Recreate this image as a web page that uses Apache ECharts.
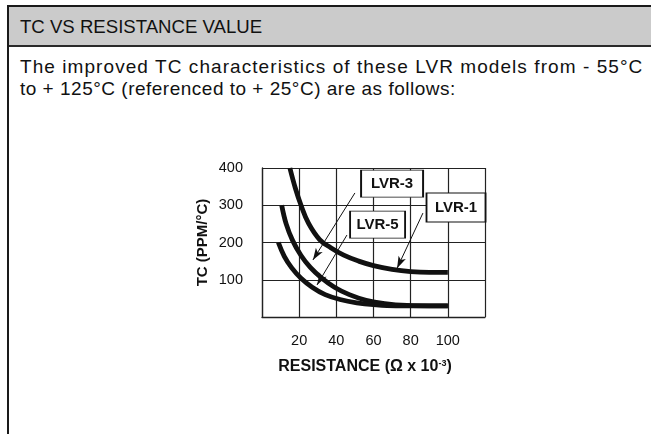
<!DOCTYPE html>
<html>
<head>
<meta charset="utf-8">
<script src="https://cdn.jsdelivr.net/npm/echarts@6/dist/echarts.min.js"></script>
<style>
    html, body { margin: 0; padding: 0; background: #fff; overflow: hidden; }
    body { width: 651px; height: 434px; position: relative; font-family: "Liberation Sans", Arial, sans-serif; color: #111; }
    .frame { position: absolute; left: 7px; top: 5px; width: 660px; height: 450px; border-top: 2px solid #1a1a1a; border-left: 2px solid #1a1a1a; }
    .head { height: 38px; background: #cbcbcb; border-bottom: 2px solid #2a2a2a; }
    .head span { position: absolute; left: 11px; top: 10px; font-size: 18.6px; line-height: 20px; }
    .intro { position: absolute; left: 20px; top: 56px; font-size: 19px; line-height: 22px; white-space: nowrap; }
    .intro .l1 { letter-spacing: 1.07px; }
    .intro .l2 { letter-spacing: 0.5px; }
    #chart { position: absolute; left: 0; top: 0; width: 651px; height: 434px; }
</style>
</head>
<body>
<div class="frame"><div class="head"><span>TC VS RESISTANCE VALUE</span></div></div>
<div class="intro">
    <div class="l1">The improved TC characteristics of these LVR models from - 55°C</div>
    <div class="l2">to + 125°C (referenced to + 25°C) are as follows:</div>
</div>
<div id="chart"></div>
<script>
    // curves: [resistance, tc]
    const lvr1 = [[15,400],[18,345],[21,300],[25,252],[31,208],[37,186],[44,166],[52,150],[60,138],[70,128],[80,122],[90,120],[100,120]];
    const lvr3 = [[10.6,300],[13,250],[16.5,205],[21,165],[26,133],[32,105],[39,80],[47,60],[56,45],[66,36],[78,31],[90,30],[100,30]];
    const lvr5 = [[8.8,200],[12,163],[16,132],[21,104],[27,80],[34,60],[42,47],[51,38],[60,33],[72,30],[85,30],[100,30]];

    const xTicks = [20, 40, 60, 80, 100];
    const yTicks = [100, 200, 300, 400];

    // callout boxes and arrows, in data units
    const boxNames = ['LVR-3', 'LVR-5', 'LVR-1'];
    const boxAt = [[70,358],[62.2,248],[104.4,294]];
    const boxSize = [[62,27],[55,27],[59,29]];
    const arrows = [
        [[50,333],[27.4,153]],
        [[45.7,220],[29.6,86]],
        [[86.6,279],[72.7,131]]
    ];

    let chart = echarts.init(document.getElementById('chart'));

    function curve(name, data){
        return {
            name: name,
            type: 'line',
            data: data,
            smooth: 0.4,
            showSymbol: false,
            symbol: 'none',
            lineStyle: { color: '#111', width: 4.8 },
            z: 3
        };
    }

    let series = [curve('LVR-1', lvr1), curve('LVR-3', lvr3), curve('LVR-5', lvr5)];

    // arrows + label boxes hang off an empty helper series
    series.push({
        type: 'line',
        data: [],
        markLine: {
            silent: true,
            symbol: ['none', 'arrow'],
            symbolSize: [6, 12],
            label: { show: false },
            lineStyle: { color: '#111', width: 1, type: 'solid' },
            data: arrows.map(a => [{ coord: a[0] }, { coord: a[1] }])
        },
        markPoint: {
            silent: true,
            symbol: 'rect',
            data: boxNames.map((n, i) => ({
                coord: boxAt[i],
                symbolSize: boxSize[i],
                value: n
            })),
            itemStyle: { color: '#fff', borderColor: '#111', borderWidth: 1.3 },
            label: {
                show: true,
                position: 'inside',
                formatter: p => p.value,
                color: '#111',
                fontWeight: 'bold',
                fontSize: 15,
                fontFamily: 'Liberation Sans, Arial, sans-serif'
            }
        },
        z: 5
    });

    let option = {
        animation: false,
        backgroundColor: 'transparent',
        textStyle: { fontFamily: 'Liberation Sans, Arial, sans-serif' },
        grid: { left: 262, top: 168, width: 223, height: 149 },
        xAxis: {
            type: 'value',
            min: 0,
            max: 120,
            interval: 20,
            name: 'RESISTANCE (Ω x 10{s|-3})',
            nameLocation: 'middle',
            nameGap: 42,
            nameTextStyle: {
                fontWeight: 'bold',
                fontSize: 16,
                color: '#111',
                padding: [0, 17, 0, 0],
                rich: {
                    s: { fontSize: 9, fontWeight: 'bold', color: '#111', verticalAlign: 'top', padding: [0, 0, 6, 0] }
                }
            },
            axisLine: { show: true, lineStyle: { color: '#222', width: 1.3 } },
            axisTick: { show: false },
            axisLabel: {
                margin: 16,
                fontSize: 14.5,
                color: '#111',
                formatter: v => xTicks.indexOf(v) >= 0 ? String(v) : ''
            },
            splitLine: { show: true, lineStyle: { color: '#222', width: 1.2 } }
        },
        yAxis: {
            type: 'value',
            min: 0,
            max: 400,
            interval: 100,
            name: 'TC (PPM/°C)',
            nameLocation: 'middle',
            nameGap: 52,
            nameTextStyle: { fontWeight: 'bold', fontSize: 15, color: '#111' },
            axisLine: { show: true, lineStyle: { color: '#222', width: 1.3 } },
            axisTick: { show: false },
            axisLabel: {
                margin: 19,
                fontSize: 14.5,
                color: '#111',
                formatter: v => yTicks.indexOf(v) >= 0 ? String(v) : ''
            },
            splitLine: { show: true, lineStyle: { color: '#222', width: 1.2 } }
        },
        series: series
    };
    chart.setOption(option);
</script>
</body>
</html>
